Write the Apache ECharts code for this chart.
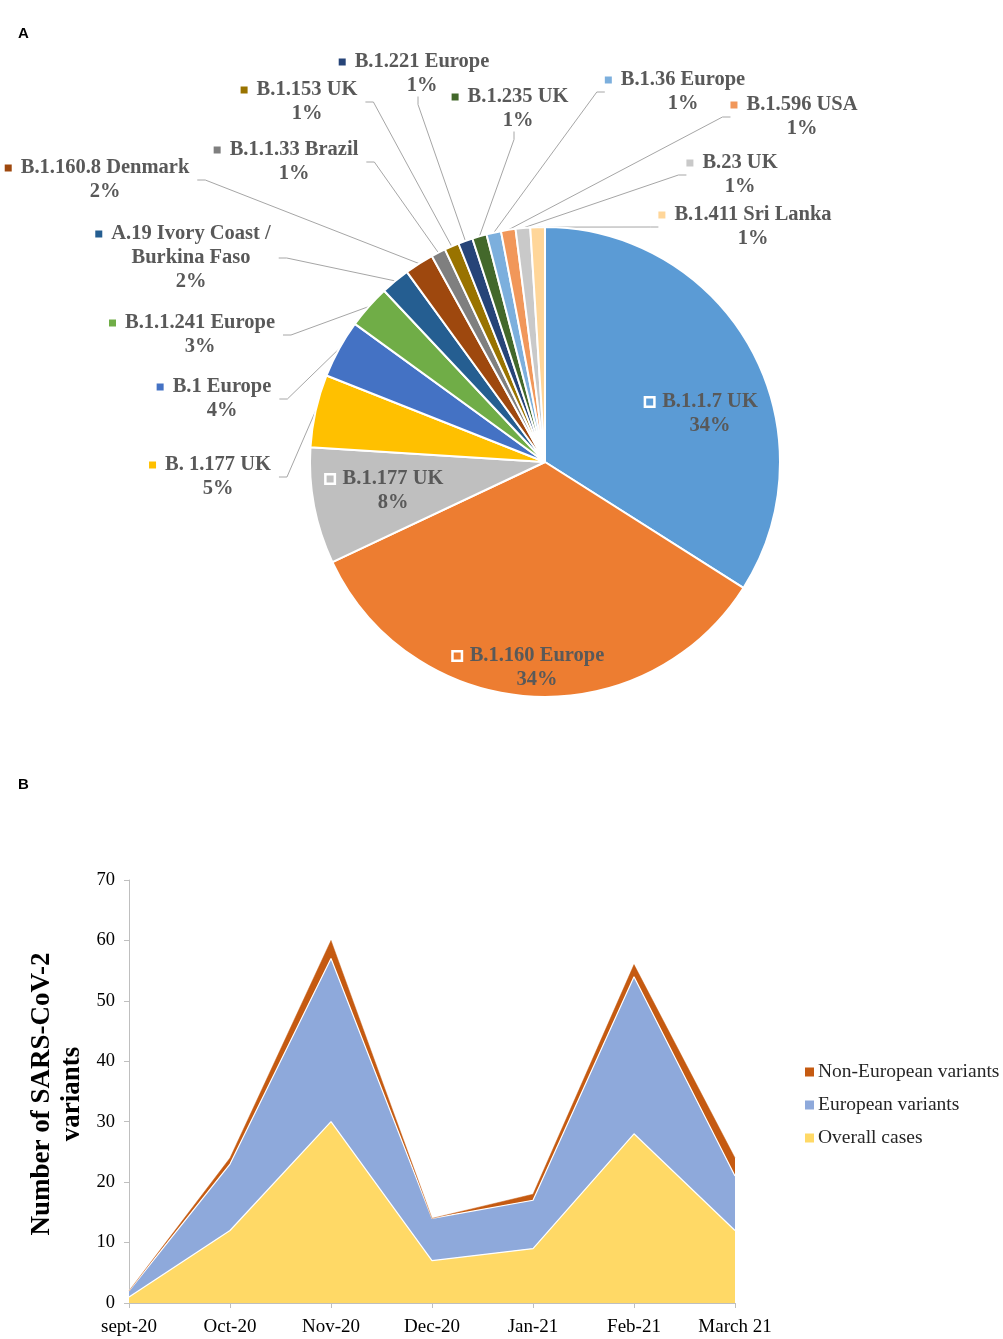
<!DOCTYPE html>
<html><head><meta charset="utf-8">
<script src="https://cdn.jsdelivr.net/npm/echarts@6/dist/echarts.min.js"></script>
<style>html,body{margin:0;padding:0;background:#fff}#c{width:1003px;height:1339px}</style>
</head><body><div id="c"></div>
<script>
// ---------- data ----------
const variants = ['B.1.1.7 UK','B.1.160 Europe','B.1.177 UK','B. 1.177 UK','B.1 Europe','B.1.1.241 Europe',
  'A.19 Ivory Coast /\nBurkina Faso','B.1.160.8 Denmark','B.1.1.33 Brazil','B.1.153 UK','B.1.221 Europe',
  'B.1.235 UK','B.1.36 Europe','B.1.596 USA','B.23 UK','B.1.411 Sri Lanka'];
const shares = [34,34,8,5,4,3,2,2,1,1,1,1,1,1,1,1];
const months = ['sept-20','Oct-20','Nov-20','Dec-20','Jan-21','Feb-21','March 21'];
const overallCases = [1,12,30,7,9,28,12];
const europeanVariants = [1,11,27,7,8,26,9];
const nonEuropeanVariants = [0,1,3,0,1,2,3];
const seriesNames = ['Overall cases','European variants','Non-European variants'];

// ---------- styles / label placement ----------
const sliceColors = ['#5B9BD5','#ED7D31','#BFBFBF','#FFC000','#4472C4','#70AD47','#255E91','#9E480E',
  '#7F7F7F','#997300','#264478','#43682B','#7CAFDD','#F1975A','#C9C9C9','#FFD699'];
const insideLabel = [true,true,true,false,false,false,false,false,false,false,false,false,false,false,false,false];
const labelPos = [[710,414],[537,668],[393,491],[218,477],[222,399],[200,335],[191,258],[105,180],
  [294,162],[307,102],[422,74],[518,109],[683,92],[802,117],[740,175],[753,227]];
const areaColors = ['#FFD966','#8EA9DB','#C55A11'];

const serif = 'Liberation Serif';
const pieData = variants.map((name, i) => {
  const lines = name.split('\n');
  let f = '{' + (insideLabel[i] ? 'mi' : 'm') + '|}{g|}{n|' + lines[0] + '}{s|}';
  for (let k = 1; k < lines.length; k++) f += '\n{n|' + lines[k] + '}';
  f += '\n{n|' + shares[i] + '%}';
  return {
    name: name, value: shares[i],
    itemStyle: { color: sliceColors[i] },
    label: {
      position: insideLabel[i] ? 'inside' : 'outside',
      formatter: f,
      rich: {
        m: { width: 7, height: 7, backgroundColor: sliceColors[i], align: 'center', verticalAlign: 'middle' },
        mi: { width: 7, height: 7, backgroundColor: sliceColors[i], borderColor: '#fff', borderWidth: 2.5, align: 'center', verticalAlign: 'middle' },
        g: { width: 9, align: 'center' },
        s: { width: 16, align: 'center' },
        n: { fontFamily: serif, fontWeight: 'bold', fontSize: 20.5, color: '#595959', lineHeight: 24, align: 'center' }
      }
    },
    labelLine: { show: !insideLabel[i] }
  };
});

const chart = echarts.init(document.getElementById('c'), null, { renderer: 'canvas' });
chart.setOption({
  animation: false,
  backgroundColor: '#fff',
  graphic: [
    { type: 'text', left: 18, top: 26, style: { text: 'A', fontFamily: 'Liberation Sans', fontWeight: 'bold', fontSize: 15, fill: '#000' } },
    { type: 'text', left: 18, top: 777, style: { text: 'B', fontFamily: 'Liberation Sans', fontWeight: 'bold', fontSize: 15, fill: '#000' } },
    { type: 'text', x: 57, y: 1094, rotation: Math.PI / 2,
      style: { text: 'Number of SARS-CoV-2\nvariants', fontFamily: serif, fontWeight: 'bold', fontSize: 27, lineHeight: 30,
        fill: '#000', align: 'center', verticalAlign: 'middle' } }
  ],
  legend: {
    data: ['Non-European variants','European variants','Overall cases'],
    orient: 'vertical', left: 800, top: 1057, itemWidth: 9, itemHeight: 9, itemGap: 13, icon: 'rect',
    textStyle: { fontFamily: serif, fontSize: 19.5, color: '#262626', padding: [0,0,0,-1] }
  },
  grid: { left: 129, top: 880, width: 606, height: 423 },
  xAxis: {
    type: 'category', data: months, boundaryGap: false,
    axisLine: { lineStyle: { color: '#BFBFBF' } },
    axisTick: { show: true, length: 5, lineStyle: { color: '#BFBFBF' } },
    axisLabel: { fontFamily: serif, fontSize: 19, color: '#000', margin: 15 }
  },
  yAxis: {
    type: 'value', min: 0, max: 70, interval: 10,
    axisLine: { show: true, lineStyle: { color: '#BFBFBF' } },
    axisTick: { show: true, length: 5, lineStyle: { color: '#BFBFBF' } },
    splitLine: { show: false },
    axisLabel: { fontFamily: serif, fontSize: 18.5, color: '#000', margin: 14 }
  },
  series: [
    {
      type: 'pie', center: [545, 462], radius: 235, startAngle: 90, clockwise: true,
      avoidLabelOverlap: false,
      itemStyle: { borderColor: '#fff', borderWidth: 2 },
      labelLine: { length: 10, length2: 8, lineStyle: { color: '#A6A6A6', width: 1 } },
      labelLayout: function (p) {
        const pos = labelPos[p.dataIndex];
        return { x: pos[0], y: pos[1], align: 'center', verticalAlign: 'middle', hideOverlap: false };
      },
      data: pieData
    },
    { name: seriesNames[0], type: 'line', stack: 'total', data: overallCases, showSymbol: false, symbol: 'none',
      color: areaColors[0], itemStyle: { color: areaColors[0] },
      lineStyle: { color: '#fff', width: 1.2 }, areaStyle: { color: areaColors[0], opacity: 1 } },
    { name: seriesNames[1], type: 'line', stack: 'total', data: europeanVariants, showSymbol: false, symbol: 'none',
      color: areaColors[1], itemStyle: { color: areaColors[1] },
      lineStyle: { color: '#fff', width: 1.2 }, areaStyle: { color: areaColors[1], opacity: 1 } },
    { name: seriesNames[2], type: 'line', stack: 'total', data: nonEuropeanVariants, showSymbol: false, symbol: 'none',
      color: areaColors[2], itemStyle: { color: areaColors[2] },
      lineStyle: { color: areaColors[2], width: 0.5 }, areaStyle: { color: areaColors[2], opacity: 1 } }
  ]
});
</script></body></html>
